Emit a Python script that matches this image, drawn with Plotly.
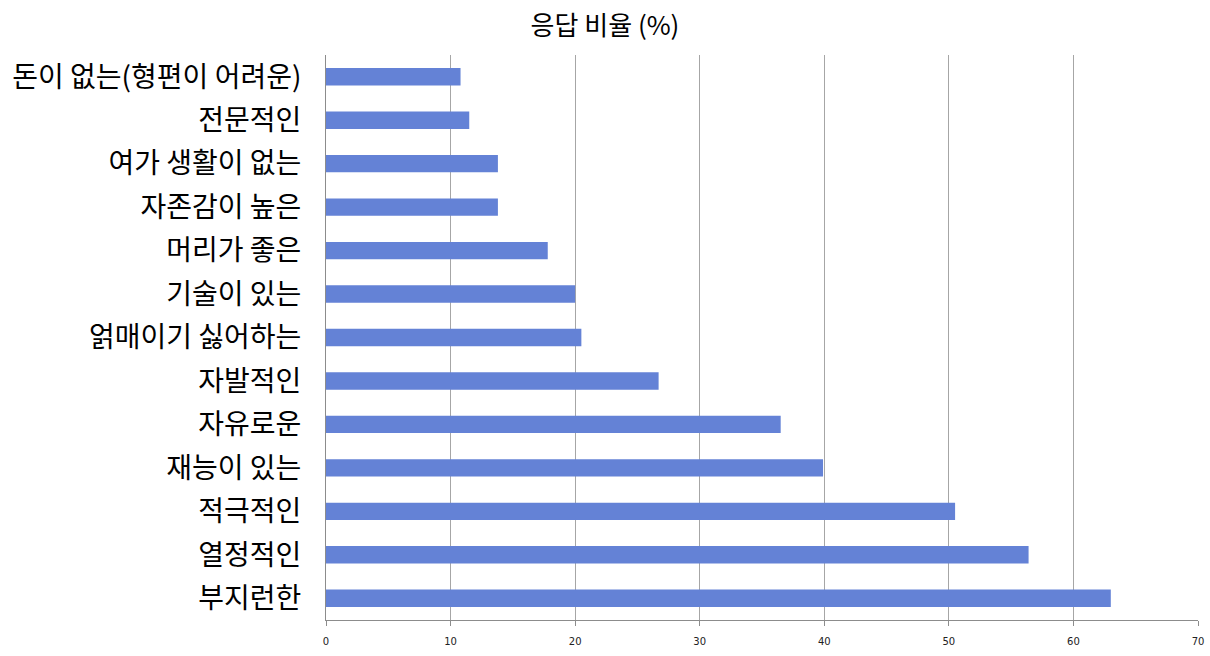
import plotly.graph_objects as go

categories = ["부지런한", "열정적인", "적극적인", "재능이 있는", "자유로운", "자발적인",
              "얽매이기 싫어하는", "기술이 있는", "머리가 좋은", "자존감이 높은",
              "여가 생활이 없는", "전문적인", "돈이 없는(형편이 어려운)"]
values = [63.0, 56.4, 50.5, 39.9, 36.5, 26.7, 20.5, 20.0, 17.8, 13.8, 13.8, 11.5, 10.8]
x_ticks = [0, 10, 20, 30, 40, 50, 60, 70]

fig = go.Figure()
fig.add_trace(go.Bar(x=values, y=categories, orientation="h",
                     marker=dict(color="#6482d6", line=dict(width=0)),
                     width=0.4))

fig.update_layout(
    width=1210, height=656,
    margin=dict(l=326, r=12, t=55, b=36),
    plot_bgcolor="white", paper_bgcolor="white",
    font=dict(family="Noto Sans CJK KR", color="black"),
    title=dict(text="응답 비율 (%)", x=0.5, xanchor="center", y=0.96, yanchor="middle",
               font=dict(size=26, color="black")),
    showlegend=False,
)
fig.update_xaxes(range=[0, 70], tickvals=x_ticks, showgrid=True, gridcolor="#a6a6a6",
                 gridwidth=1, showline=True, linecolor="#8c8c8c", linewidth=1,
                 ticks="outside", ticklen=5, tickcolor="#8c8c8c", ticklabelstandoff=7,
                 tickfont=dict(size=10, family="DejaVu Sans", color="#222222"),
                 zeroline=False, automargin=False)
fig.update_yaxes(showline=True, linecolor="#8c8c8c", linewidth=1,
                 tickfont=dict(size=28, color="black"), ticks="", ticklabelstandoff=18,
                 showgrid=False, automargin=False)

# page body has a default 8px margin; drop it so the figure sits at 0,0
fig.write_html("out.html", config={"displayModeBar": False},
               post_script="document.body.style.margin='0';")
